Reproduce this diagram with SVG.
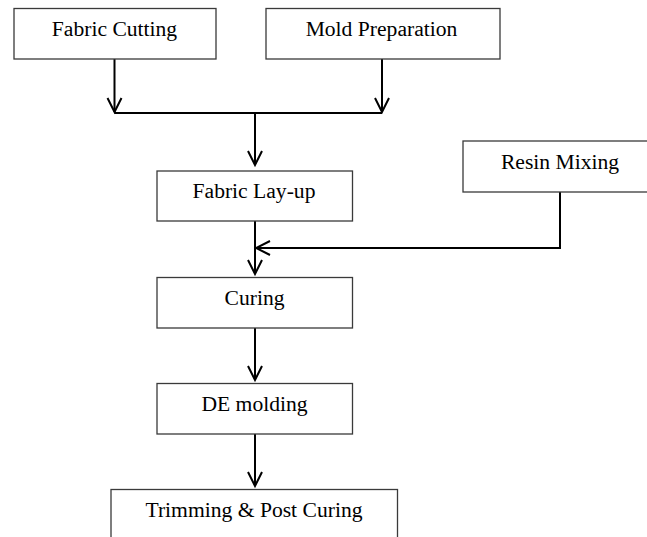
<svg xmlns="http://www.w3.org/2000/svg" width="647" height="537" viewBox="0 0 647 537">
<style>
.box{fill:#fff;stroke:#3a3a3a;stroke-width:1.3}
.lbl{font-family:"Liberation Serif","Times New Roman",serif;font-size:21.6px;fill:#000;text-anchor:middle}
.ln{fill:none;stroke:#000;stroke-width:2}
</style>
<defs>
<marker id="ah" markerUnits="userSpaceOnUse" markerWidth="20" markerHeight="20" viewBox="-16 -10 18 20" refX="0" refY="0" orient="auto">
<path d="M-14,-7 L0,0 L-14,7" fill="none" stroke="#000" stroke-width="2"/>
</marker>
</defs>
<rect width="647" height="537" fill="#fff"/>
<g id="connectors">
<path class="ln" d="M114.5,59 V112" marker-end="url(#ah)"/>
<path class="ln" d="M382,59 V112" marker-end="url(#ah)"/>
<path class="ln" d="M114.5,113 H382"/>
<path class="ln" d="M255,113 V165" marker-end="url(#ah)"/>
<path class="ln" d="M255,221 V274" marker-end="url(#ah)"/>
<path class="ln" d="M560,192 V248 H256" marker-end="url(#ah)"/>
<path class="ln" d="M255,328 V380" marker-end="url(#ah)"/>
<path class="ln" d="M255,434 V486" marker-end="url(#ah)"/>
</g>
<g id="fabric-cutting"><rect class="box" x="14" y="8.5" width="202" height="50.5"/><text class="lbl" x="114.5" y="36">Fabric Cutting</text></g>
<g id="mold-preparation"><rect class="box" x="266" y="8.5" width="234" height="50.5"/><text class="lbl" x="381.5" y="36">Mold Preparation</text></g>
<g id="resin-mixing"><rect class="box" x="463" y="141" width="200" height="51"/><text class="lbl" x="560" y="169">Resin Mixing</text></g>
<g id="fabric-layup"><rect class="box" x="157" y="171" width="195.5" height="50"/><text class="lbl" x="254" y="198">Fabric Lay-up</text></g>
<g id="curing"><rect class="box" x="157" y="277.5" width="195.5" height="50.5"/><text class="lbl" x="254.5" y="305">Curing</text></g>
<g id="de-molding"><rect class="box" x="157" y="383.5" width="195.5" height="50.5"/><text class="lbl" x="254.5" y="411">DE molding</text></g>
<g id="trimming"><rect class="box" x="111" y="489.5" width="286.5" height="60"/><text class="lbl" x="254" y="517">Trimming &amp; Post Curing</text></g>
</svg>
